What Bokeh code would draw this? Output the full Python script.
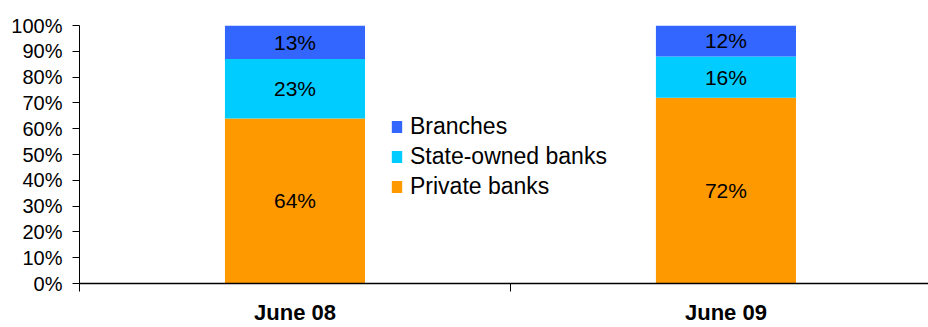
from bokeh.plotting import figure
from bokeh.models import (ColumnDataSource, Range1d, FixedTicker, NumeralTickFormatter,
                          Legend, LegendItem)
from bokeh.core.properties import value
from bokeh.embed import file_html
from bokeh.resources import INLINE

# ---- data ----
categories = ["June 08", "June 09"]
series_names = ["Private banks", "State-owned banks", "Branches"]
private_banks = [0.64, 0.72]
state_owned_banks = [0.23, 0.16]
branches = [0.13, 0.12]
colors = ["#FF9900", "#00CCFF", "#3366FF"]
y_ticks = [0.0, 0.1, 0.2, 0.3, 0.4, 0.5, 0.6, 0.7, 0.8, 0.9, 1.0]

xpos = [i + 0.5 for i in range(len(categories))]
src = ColumnDataSource(dict(x=xpos, p=private_banks, s=state_owned_banks, b=branches))

# the original chart is clipped at the right edge, so the visible range ends just before 2
p = figure(width=928, height=327, output_backend="svg", toolbar_location=None,
           x_range=Range1d(0, 1.97), y_range=Range1d(0, 1),
           min_border_left=79, min_border_right=0, min_border_top=25, min_border_bottom=44)
p.outline_line_color = None
p.grid.visible = False
p.background_fill_color = "white"
p.border_fill_color = "white"

renderers = p.vbar_stack(["p", "s", "b"], x="x", width=0.325, source=src,
                         color=colors, line_color=None)

# value labels (mid-points of each segment)
lx, ly, lt = [], [], []
for i, x in enumerate(xpos):
    base = 0.0
    for vals in (private_banks, state_owned_banks, branches):
        v = vals[i]
        lx.append(x)
        ly.append(base + v / 2)
        lt.append(f"{round(v * 100)}%")
        base += v
p.text(x=lx, y=ly, text=lt, text_align="center", text_baseline="middle",
       text_font=value("Liberation Sans"), text_font_size="21px", text_color="black")

# y axis
ya = p.yaxis[0]
ya.ticker = FixedTicker(ticks=y_ticks)
ya.formatter = NumeralTickFormatter(format="0%")
ya.major_tick_in = 0
ya.major_tick_out = 7
ya.minor_tick_line_color = None
ya.major_label_standoff = 10
ya.major_label_text_font = "Liberation Sans"
ya.major_label_text_font_size = "20px"
ya.major_label_text_color = "black"
ya.axis_line_color = "black"
ya.major_tick_line_color = "black"

# x axis: labels at category centres, ticks at boundaries (minor ticks)
xa = p.xaxis[0]
xa.ticker = FixedTicker(ticks=xpos, minor_ticks=[0, 1, 2])
xa.major_label_overrides = {xpos[i]: categories[i] for i in range(len(categories))}
xa.major_tick_in = 0
xa.major_tick_out = 0
xa.minor_tick_in = 0
xa.minor_tick_out = 8
xa.minor_tick_line_color = "black"
xa.axis_line_color = "black"
xa.axis_line_width = 1.5
xa.major_label_standoff = 8
xa.major_label_text_line_height = 1.0
xa.major_label_text_font = "Liberation Sans"
xa.major_label_text_font_style = "bold"
xa.major_label_text_font_size = "22px"
xa.major_label_text_color = "black"

legend = Legend(items=[LegendItem(label=series_names[k], renderers=[renderers[k]])
                       for k in (2, 1, 0)],
                location=(311, 83), padding=0, margin=0, spacing=3,
                glyph_width=13, glyph_height=15, label_height=24, label_standoff=7,
                label_text_font="Liberation Sans", label_text_font_size="23px",
                label_text_color="black", border_line_color=None,
                background_fill_alpha=0)
p.add_layout(legend, "center")

open("out.html", "w").write(file_html(p, INLINE))
